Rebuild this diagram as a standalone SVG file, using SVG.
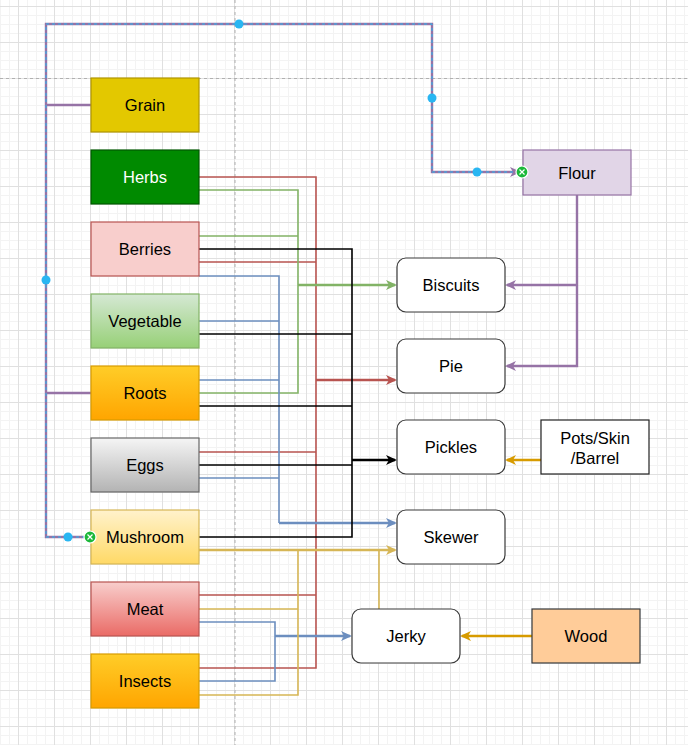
<svg xmlns="http://www.w3.org/2000/svg" width="688" height="745" viewBox="0 0 688 745">
<style>
.lbl{font-family:"Liberation Sans",Arial,Helvetica,sans-serif;font-size:16.5px;text-anchor:middle;fill:#000}
.e{fill:none;stroke-width:1.6}
.f{fill:none;stroke-width:2.4}
.box{stroke-width:1.2}
.rnd{fill:#fff;stroke:#3a3a3a;stroke-width:1.2}
.red{stroke:#b85450}.grn{stroke:#82b366}.blu{stroke:#6c8ebf}.blk{stroke:#000}.yel{stroke:#d6b656}.pur{stroke:#9673a6}.org{stroke:#d79b00}
.h{fill:#29b6f2}
</style>
<defs>
<pattern id="minor" x="0" y="6" width="9" height="9" patternUnits="userSpaceOnUse">
<path d="M0.5,0 V9 M0,0.5 H9" stroke="#f3f3f3" stroke-width="1" fill="none"/>
</pattern>
<pattern id="major" x="18" y="6" width="36" height="36" patternUnits="userSpaceOnUse">
<path d="M0.5,0 V36 M0,0.5 H36" stroke="#e0e0e0" stroke-width="1" fill="none"/>
</pattern>
<linearGradient id="gVeg" x1="0" y1="0" x2="0" y2="1"><stop offset="0" stop-color="#d5e8d4"/><stop offset="1" stop-color="#97d077"/></linearGradient>
<linearGradient id="gOrg" x1="0" y1="0" x2="0" y2="1"><stop offset="0" stop-color="#ffcd28"/><stop offset="1" stop-color="#ffa500"/></linearGradient>
<linearGradient id="gEgg" x1="0" y1="0" x2="0" y2="1"><stop offset="0" stop-color="#f5f5f5"/><stop offset="1" stop-color="#b3b3b3"/></linearGradient>
<linearGradient id="gMush" x1="0" y1="0" x2="0" y2="1"><stop offset="0" stop-color="#fff2cc"/><stop offset="1" stop-color="#ffd966"/></linearGradient>
<linearGradient id="gMeat" x1="0" y1="0" x2="0" y2="1"><stop offset="0" stop-color="#f8cecc"/><stop offset="1" stop-color="#ea6b66"/></linearGradient>
<marker id="aRed" markerUnits="userSpaceOnUse" markerWidth="11" markerHeight="10" viewBox="0 0 11 10" refX="9" refY="5" orient="auto"><path d="M0,0 L11,5 L0,10 L3,5 z" fill="#b85450"/></marker>
<marker id="aGrn" markerUnits="userSpaceOnUse" markerWidth="11" markerHeight="10" viewBox="0 0 11 10" refX="9" refY="5" orient="auto"><path d="M0,0 L11,5 L0,10 L3,5 z" fill="#82b366"/></marker>
<marker id="aBlu" markerUnits="userSpaceOnUse" markerWidth="11" markerHeight="10" viewBox="0 0 11 10" refX="9" refY="5" orient="auto"><path d="M0,0 L11,5 L0,10 L3,5 z" fill="#6c8ebf"/></marker>
<marker id="aBlk" markerUnits="userSpaceOnUse" markerWidth="11" markerHeight="10" viewBox="0 0 11 10" refX="9" refY="5" orient="auto"><path d="M0,0 L11,5 L0,10 L3,5 z" fill="#000"/></marker>
<marker id="aYel" markerUnits="userSpaceOnUse" markerWidth="11" markerHeight="10" viewBox="0 0 11 10" refX="9" refY="5" orient="auto"><path d="M0,0 L11,5 L0,10 L3,5 z" fill="#d6b656"/></marker>
<marker id="aPur" markerUnits="userSpaceOnUse" markerWidth="11" markerHeight="10" viewBox="0 0 11 10" refX="9" refY="5" orient="auto"><path d="M0,0 L11,5 L0,10 L3,5 z" fill="#9673a6"/></marker>
<marker id="aOrg" markerUnits="userSpaceOnUse" markerWidth="11" markerHeight="10" viewBox="0 0 11 10" refX="9" refY="5" orient="auto"><path d="M0,0 L11,5 L0,10 L3,5 z" fill="#d79b00"/></marker>
</defs>

<g id="background">
<rect x="0" y="0" width="688" height="745" fill="#fff"/>
<rect x="0" y="0" width="688" height="745" fill="url(#minor)"/>
<rect x="0" y="0" width="688" height="745" fill="url(#major)"/>
<path d="M235,0 V745" stroke="#b0b0b0" stroke-width="1" stroke-dasharray="3 3" fill="none"/>
<path d="M0,78.5 H688" stroke="#b0b0b0" stroke-width="1" stroke-dasharray="3 3" fill="none"/>
</g>

<g id="connectors">
<!-- red to Pie -->
<path class="e red" d="M199,177 H316 V668 H199 M199,262 H316 M199,452 H316 M199,595 H316"/>
<path class="f red" d="M316,380 H395" marker-end="url(#aRed)"/>
<!-- green to Biscuits -->
<path class="e grn" d="M199,190 H298 V393 H199 M199,236 H298"/>
<path class="f grn" d="M298,285 H395" marker-end="url(#aGrn)"/>
<!-- blue to Skewer -->
<path class="e blu" d="M199,276 H279 V523 M199,321 H279 M199,380 H279 M199,478 H279"/>
<path class="f blu" d="M279,523 H395" marker-end="url(#aBlu)"/>
<!-- blue to Jerky -->
<path class="e blu" d="M199,622 H275 V681 H199"/>
<path class="f blu" d="M275,636 H350" marker-end="url(#aBlu)"/>
<!-- black to Pickles -->
<path class="e blk" d="M199,249 H352 V537 H199 M199,334 H352 M199,406 H352 M199,465 H352"/>
<path class="f blk" d="M352,460 H395" marker-end="url(#aBlk)"/>
<!-- yellow to Skewer -->
<path class="e yel" d="M199,609 H298 M199,695 H298 V550 M379,609 V550"/>
<path class="f yel" d="M199,550 H395" marker-end="url(#aYel)"/>
<!-- purple to Flour -->
<path class="f pur" d="M91,537 H46 V24 H432 V172 H519" marker-end="url(#aPur)"/>
<path class="f pur" d="M91,105 H46 M91,393 H46"/>
<path class="f pur" d="M577,195 V366 H507" marker-end="url(#aPur)"/>
<path class="f pur" d="M577,285 H507" marker-end="url(#aPur)"/>
<!-- orange -->
<path class="f org" d="M541,460 H507" marker-end="url(#aOrg)"/>
<path class="f org" d="M532,636 H462" marker-end="url(#aOrg)"/>
</g>

<g id="Grain"><rect class="box" x="91" y="78" width="108" height="54" fill="#e3c800" stroke="#b09500"/><text class="lbl" x="145" y="111">Grain</text></g>
<g id="Herbs"><rect class="box" x="91" y="150" width="108" height="54" fill="#008a00" stroke="#005700"/><text class="lbl" x="145" y="183" style="fill:#fff">Herbs</text></g>
<g id="Berries"><rect class="box" x="91" y="222" width="108" height="54" fill="#f8cecc" stroke="#b85450"/><text class="lbl" x="145" y="255">Berries</text></g>
<g id="Vegetable"><rect class="box" x="91" y="294" width="108" height="54" fill="url(#gVeg)" stroke="#82b366"/><text class="lbl" x="145" y="327">Vegetable</text></g>
<g id="Roots"><rect class="box" x="91" y="366" width="108" height="54" fill="url(#gOrg)" stroke="#d79b00"/><text class="lbl" x="145" y="399">Roots</text></g>
<g id="Eggs"><rect class="box" x="91" y="438" width="108" height="54" fill="url(#gEgg)" stroke="#666666"/><text class="lbl" x="145" y="471">Eggs</text></g>
<g id="Mushroom"><rect class="box" x="91" y="510" width="108" height="54" fill="url(#gMush)" stroke="#d6b656"/><text class="lbl" x="145" y="543">Mushroom</text></g>
<g id="Meat"><rect class="box" x="91" y="582" width="108" height="54" fill="url(#gMeat)" stroke="#b85450"/><text class="lbl" x="145" y="615">Meat</text></g>
<g id="Insects"><rect class="box" x="91" y="654" width="108" height="54" fill="url(#gOrg)" stroke="#d79b00"/><text class="lbl" x="145" y="687">Insects</text></g>

<g id="Flour"><rect class="box" x="523" y="150" width="108" height="45" fill="#e1d5e7" stroke="#9673a6"/><text class="lbl" x="577" y="178.5">Flour</text></g>
<g id="Biscuits"><rect class="rnd" x="397" y="258" width="108" height="54" rx="9"/><text class="lbl" x="451" y="291">Biscuits</text></g>
<g id="Pie"><rect class="rnd" x="397" y="339" width="108" height="54" rx="9"/><text class="lbl" x="451" y="372">Pie</text></g>
<g id="Pickles"><rect class="rnd" x="397" y="420" width="108" height="54" rx="9"/><text class="lbl" x="451" y="453">Pickles</text></g>
<g id="Skewer"><rect class="rnd" x="397" y="510" width="108" height="54" rx="9"/><text class="lbl" x="451" y="543">Skewer</text></g>
<g id="Jerky"><rect class="rnd" x="352" y="609" width="108" height="54" rx="9"/><text class="lbl" x="406" y="642">Jerky</text></g>
<g id="PotsSkinBarrel"><rect x="541" y="420" width="108" height="54" fill="#fff" stroke="#222" stroke-width="1.2"/><text class="lbl" x="595" y="444">Pots/Skin</text><text class="lbl" x="595" y="464">/Barrel</text></g>
<g id="Wood"><rect class="box" x="532" y="609" width="108" height="54" fill="#ffcc99" stroke="#36393d"/><text class="lbl" x="586" y="642">Wood</text></g>

<g id="selection">
<path d="M91,537 H46 V24 H432 V172 H519" fill="none" stroke="#29b6f2" stroke-width="1" stroke-dasharray="3 3"/>
<circle class="h" cx="239" cy="24" r="4.5"/>
<circle class="h" cx="432" cy="98" r="4.5"/>
<circle class="h" cx="477" cy="172" r="4.5"/>
<circle class="h" cx="46" cy="280" r="4.5"/>
<circle class="h" cx="68" cy="537" r="4.5"/>
<g fill="#1cb83a" stroke="#fff" stroke-width="1.2">
<circle cx="522" cy="172" r="6"/>
<path d="M519.5,169.5 L524.5,174.5 M524.5,169.5 L519.5,174.5"/>
<circle cx="90" cy="537" r="6"/>
<path d="M87.5,534.5 L92.5,539.5 M92.5,534.5 L87.5,539.5"/>
</g>
</g>
</svg>
